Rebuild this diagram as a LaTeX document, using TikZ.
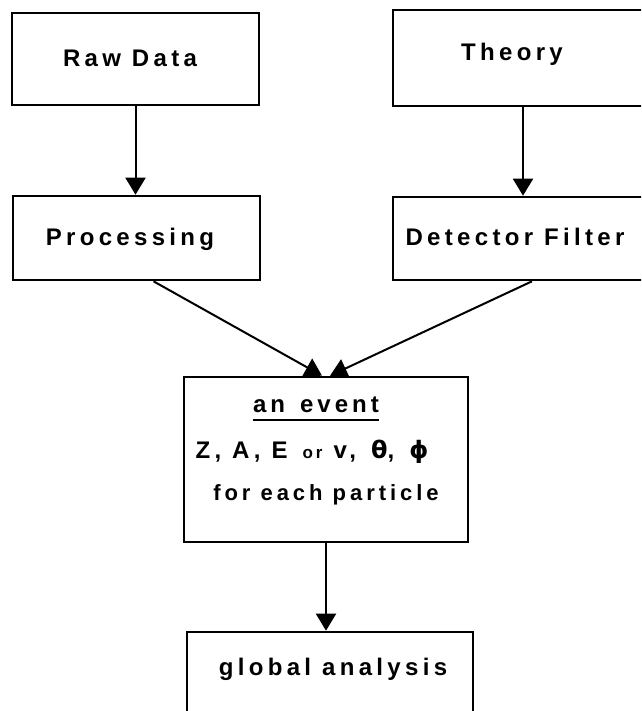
\documentclass[tikz,border=0pt]{standalone}
\usepackage{fontspec}
\setmainfont{Liberation Sans}[LetterSpace=18]
\newfontfamily\grk{DejaVu Sans}[LetterSpace=18]
\usetikzlibrary{arrows.meta}
\begin{document}
\begin{tikzpicture}[x=1pt,y=-1pt,
  box/.style={draw, line width=2.6pt, inner sep=0pt},
  lbl/.style={anchor=base, font=\bfseries\fontsize{24}{28}\selectfont, inner sep=0pt},
  lbs/.style={anchor=base, font=\bfseries\fontsize{22}{26}\selectfont, inner sep=0pt},
  arr/.style={line width=2pt, -{Triangle[width=20pt,length=17pt]}}]
\useasboundingbox (0,0) rectangle (641,711);
\clip (0,0) rectangle (641,711);
% boxes
\node[box, minimum width=247pt, minimum height=92pt] (raw) at (135.5,59) {};
\node[box, minimum width=260pt, minimum height=96pt] (theory) at (523,58) {};
\node[box, minimum width=247pt, minimum height=84pt] (proc) at (136.5,238) {};
\node[box, minimum width=260pt, minimum height=83pt] (det) at (523,238.5) {};
\node[box, minimum width=284pt, minimum height=165pt] (event) at (326,459.5) {};
\node[box, minimum width=286pt, minimum height=120pt] (global) at (330,692) {};
% texts
\node[lbl] (rawT) at (130,67) {Raw Data};
\node[lbl] (theoryT) at (512,61) {Theory};
\node[lbl] (procT) at (130,245) {Processing};
\node[lbl] (detT) at (515,245) {Detector Filter};
\node[lbl] (evTitle) at (316,412) {a\,n \,e\,v\,e\,n\,t};
\node[lbl] (evVars) at (312,458) {Z, A, E\, {\fontsize{17}{20}\selectfont or} v, \,{\grk θ}, \,{\grk ϕ}};
\node[lbs] (evFor) at (326,500) {for each particle};
\node[lbl] (globalT) at (333,675) {global analysis};
\draw[line width=1.8pt] ([yshift=-8pt]evTitle.base west) -- ([yshift=-8pt]evTitle.base east);
% connectors
\draw[arr] (raw.south) -- (raw.south |- proc.north);
\draw[arr] (theory.south) -- (det.north);
\draw[arr] ([xshift=17pt]proc.south) -- ([xshift=-4pt]event.north);
\draw[arr] ([xshift=9pt]det.south) -- ([xshift=4pt]event.north);
\draw[arr] (event.south) -- (event.south |- global.north);
\end{tikzpicture}
\end{document}
